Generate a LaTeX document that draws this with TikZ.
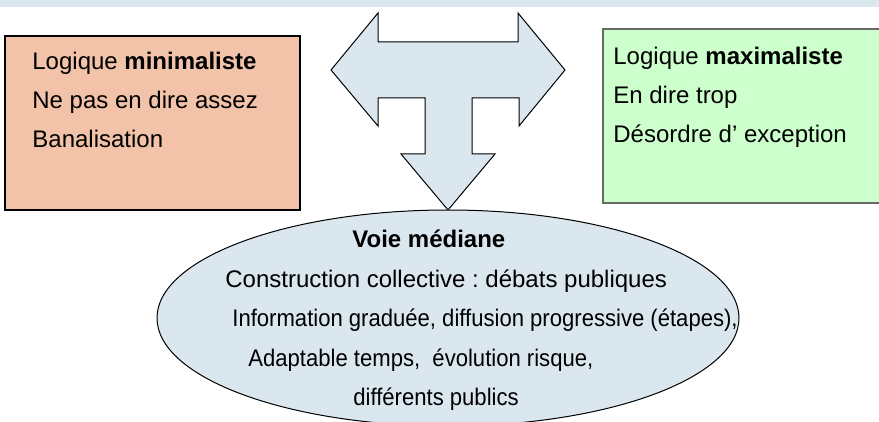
\documentclass[tikz,border=0pt]{standalone}
\usepackage{fontspec}
\setmainfont{Liberation Sans}
\newfontfamily\narrowArial[FakeStretch=0.92]{Liberation Sans}
\usetikzlibrary{positioning}
\definecolor{paleBlue}{RGB}{218,231,239}
\definecolor{salmonFill}{RGB}{242,195,168}
\definecolor{mintFill}{RGB}{204,255,204}
\definecolor{frameGray}{RGB}{105,105,105}
\frenchspacing

\begin{document}
\begin{tikzpicture}[x=0.5pt,y=-0.5pt]

          \tikzstyle{lineText} = [anchor=base west, inner sep=0pt, font=\fontsize{12}{14}\selectfont];
          \tikzstyle{narrowText} = [lineText, font=\narrowArial\fontsize{12}{14}\selectfont];
          \tikzstyle{minBox} = [fill=salmonFill, draw=black, line width=0.6pt];
          \tikzstyle{maxBox} = [fill=mintFill, draw=frameGray, line width=0.6pt];
          \tikzstyle{blueShape} = [fill=paleBlue, draw=black, line width=0.5pt];

          \useasboundingbox (0,0) rectangle (879,422);
          \clip (0,0) rectangle (879,422);
          \fill[paleBlue] (0,0) rectangle (879,7);

          % the two side boxes
          \draw[minBox] (5,36) rectangle (300,210);
          \draw[maxBox] (603,29) rectangle (895,203);

          \node[lineText] (mintitle) at (32,70) {Logique \textbf{minimaliste}};
          \node[lineText] (minsay) at (32,109) {Ne pas en dire assez};
          \node[lineText] (minban) at (32,148) {Banalisation};

          \node[lineText] (maxtitle) at (613,65) {Logique \textbf{maximaliste}};
          \node[lineText] (maxsay) at (613,104) {En dire trop};
          \node[lineText] (maxdis) at (613,143) {Désordre d’ exception};

          % middle way
          \draw[blueShape] (448,318) ellipse [x radius=291, y radius=108];

          \node[lineText] (medtitle) at (352,248) {\textbf{Voie médiane}};
          \node[lineText] (medcons) at (225,288) {Construction collective : débats publiques};
          \node[narrowText] (medinfo) at (232,327) {Information graduée, diffusion progressive (étapes),};
          \node[narrowText] (medadapt) at (248,367) {Adaptable temps,\ \ évolution risque,};
          \node[narrowText] (medpub) at (353,406) {différents publics};

          % three-way arrow
          \draw[blueShape] (378,13) -- (378,42) -- (518,42) -- (518,13) -- (565,70)
            -- (519,126) -- (519,98) -- (472,98) -- (472,154) -- (495,154)
            -- (448,210) -- (401,154) -- (425,154) -- (425,98) -- (378,98)
            -- (378,126) -- (331,70) -- cycle;
        \end{tikzpicture}
\end{document}
